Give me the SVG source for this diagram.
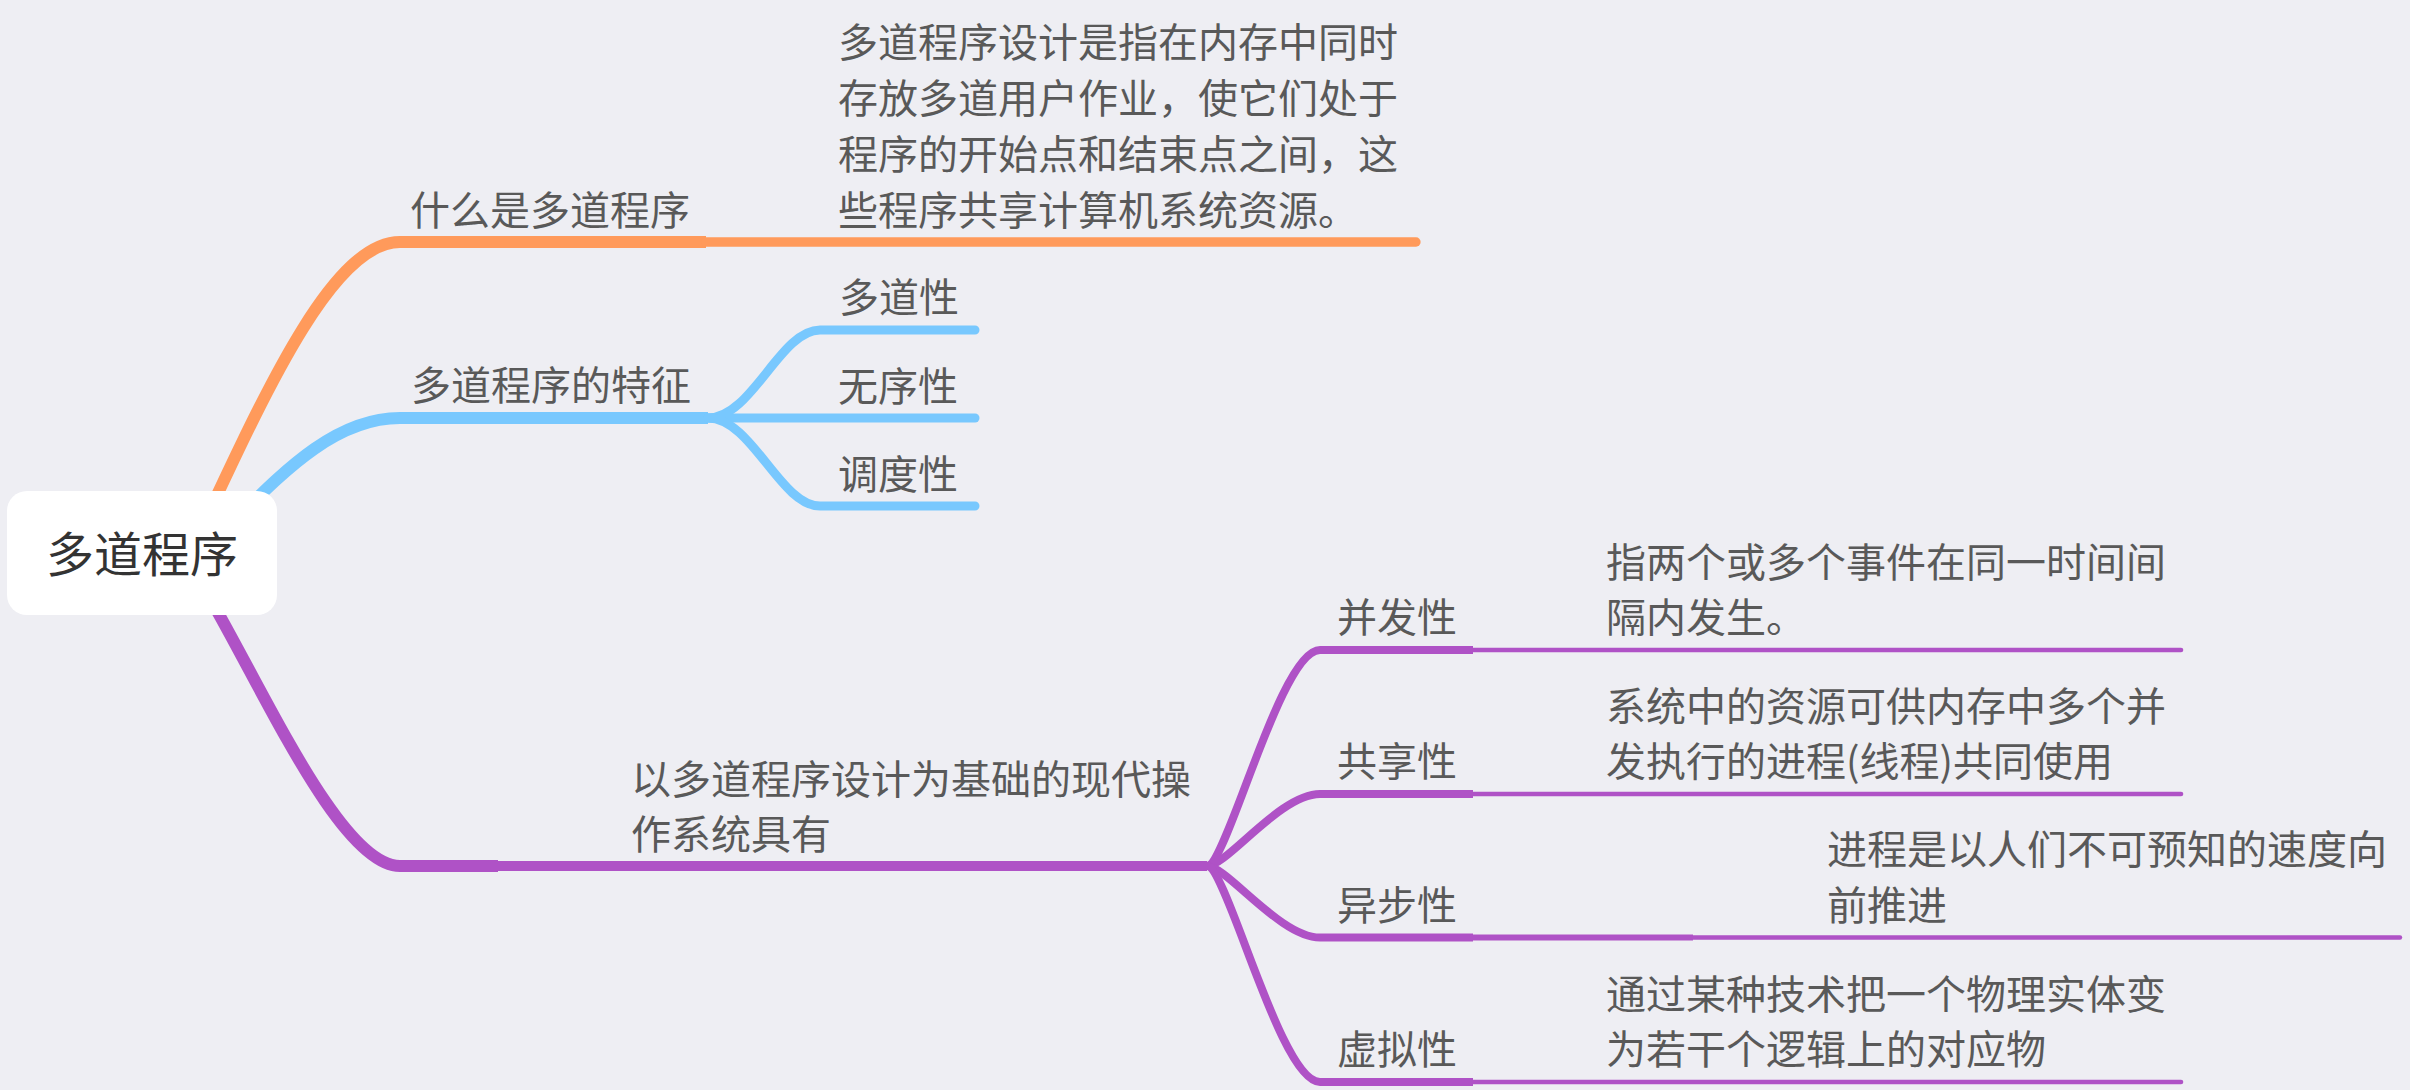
<svg xmlns="http://www.w3.org/2000/svg" width="2410" height="1090" viewBox="0 0 2410 1090">
<style>
.ln{fill:none;stroke-linecap:butt;stroke-linejoin:round}
.end{fill:none;stroke-linecap:round;stroke-linejoin:round}
.o{stroke:#FF9A5B}
.b{stroke:#78C8FE}
.p{stroke:#AF52C6}
text{font-family:"Noto Sans CJK SC","Noto Sans",sans-serif;font-size:40px;fill:#595959}
.root{font-size:48px;fill:#333333}
</style>
<rect x="0" y="0" width="2410" height="1090" fill="#EEEEF3"/>
<g id="connectors">
  <path class="ln o" stroke-width="12" d="M190 553 C260.5 403 330 242 400 242 H706"/>
  <path class="end o" stroke-width="9.3" d="M706 242 H1416"/>
  <path class="ln b" stroke-width="12" d="M200 553 C260 500 320 418 400 418 H708"/>
  <path class="end b" stroke-width="9" d="M708 418 C752 418 780 330 820 330 H975"/>
  <path class="end b" stroke-width="9" d="M708 418 H975"/>
  <path class="end b" stroke-width="9" d="M708 418 C752 418 780 506 820 506 H975"/>
  <path class="ln p" stroke-width="12" d="M180 553 C235 620 330 866 400 866 H498"/>
  <path class="ln p" stroke-width="10" d="M498 866 H1207"/>
  <path class="ln p" stroke-width="8" d="M1207 866 C1227 866 1280 650 1320 650 H1473"/>
  <path class="end p" stroke-width="4.6" d="M1473 650 H2181"/>
  <path class="ln p" stroke-width="8" d="M1207 866 C1227 866 1280 794 1320 794 H1473"/>
  <path class="end p" stroke-width="4.6" d="M1473 794 H2181"/>
  <path class="ln p" stroke-width="8" d="M1207 866 C1227 866 1280 937.5 1320 937.5 H1473"/>
  <path class="ln p" stroke-width="6" d="M1473 937.5 H1693"/>
  <path class="end p" stroke-width="4.4" d="M1693 937.5 H2400"/>
  <path class="ln p" stroke-width="8" d="M1207 866 C1227 866 1280 1082 1320 1082 H1473"/>
  <path class="end p" stroke-width="4.6" d="M1473 1082 H2181"/>
</g>
<g id="root">
  <rect x="7" y="491" width="270" height="124" rx="20" ry="20" fill="#FFFFFF"/>
  <text class="root" x="142" y="572" text-anchor="middle">多道程序</text>
</g>
<g id="what">
  <text x="410" y="225">什么是多道程序</text>
</g>
<g id="what-desc">
  <text x="838" y="57">多道程序设计是指在内存中同时</text>
  <text x="838" y="113">存放多道用户作业，使它们处于</text>
  <text x="838" y="169">程序的开始点和结束点之间，这</text>
  <text x="838" y="225">些程序共享计算机系统资源。</text>
</g>
<g id="features">
  <text x="411" y="400">多道程序的特征</text>
</g>
<g id="f1"><text x="839" y="312">多道性</text></g>
<g id="f2"><text x="838" y="401">无序性</text></g>
<g id="f3"><text x="838" y="489">调度性</text></g>
<g id="os">
  <text x="631" y="794">以多道程序设计为基础的现代操</text>
  <text x="631" y="849">作系统具有</text>
</g>
<g id="c1"><text x="1337" y="632">并发性</text></g>
<g id="c1-desc">
  <text x="1606" y="577">指两个或多个事件在同一时间间</text>
  <text x="1606" y="632">隔内发生。</text>
</g>
<g id="c2"><text x="1337" y="776">共享性</text></g>
<g id="c2-desc">
  <text x="1606" y="721">系统中的资源可供内存中多个并</text>
  <text x="1606" y="776">发执行的进程(线程)共同使用</text>
</g>
<g id="c3"><text x="1337" y="920">异步性</text></g>
<g id="c3-desc">
  <text x="1827" y="864">进程是以人们不可预知的速度向</text>
  <text x="1827" y="920">前推进</text>
</g>
<g id="c4"><text x="1337" y="1064">虚拟性</text></g>
<g id="c4-desc">
  <text x="1606" y="1009">通过某种技术把一个物理实体变</text>
  <text x="1606" y="1064">为若干个逻辑上的对应物</text>
</g>
</svg>
